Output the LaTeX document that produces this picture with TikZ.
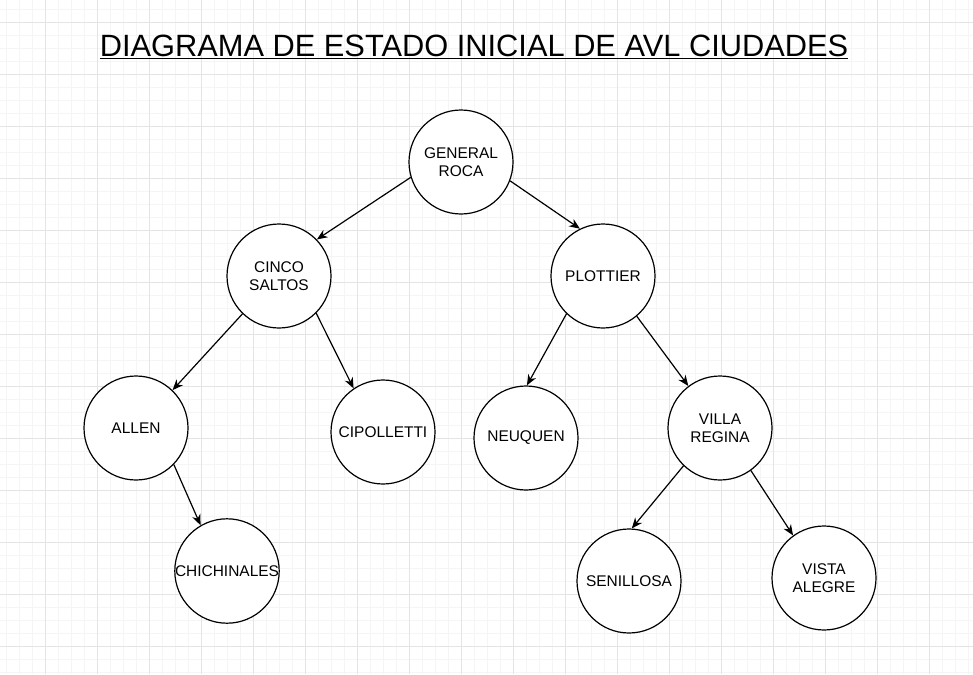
\documentclass[tikz,border=0pt]{standalone}
\usepackage{fontspec}
\setmainfont{Liberation Sans}
\usetikzlibrary{arrows.meta}
\definecolor{gridminor}{HTML}{F5F5F5}
\definecolor{gridmajor}{HTML}{E4E4E4}
\tikzset{
  ciudad/.style={draw,circle,line width=0.9pt,minimum size=78pt,inner sep=0pt,fill=white,
    align=center,font=\fontsize{11.6}{13.5}\selectfont},
  rama/.style={-{Stealth[length=8pt,width=6.5pt,inset=2.5pt]},line width=0.9pt}
}
\begin{document}
\begin{tikzpicture}[x=0.75pt,y=-0.75pt]
                \useasboundingbox (0,0) rectangle (973,674);
                \fill[white] (0,0) rectangle (973,674);
                % cuadricula
                \foreach \gx in {6,19,...,973} \draw[gridminor,line width=0.6pt] (\gx,0)--(\gx,674);
                \foreach \gy in {9,22,...,674} \draw[gridminor,line width=0.6pt] (0,\gy)--(973,\gy);
                \foreach \gx in {45,97,...,973} \draw[gridmajor,line width=0.6pt] (\gx,0)--(\gx,674);
                \foreach \gy in {22,74,...,674} \draw[gridmajor,line width=0.6pt] (0,\gy)--(973,\gy);
                \node (titulo) at (474,47) {\fontsize{23.1}{28}\selectfont\underline{DIAGRAMA DE ESTADO INICIAL DE AVL CIUDADES}};
                \node[ciudad] (roca) at (461,162) {GENERAL\\ROCA};
                \node[ciudad] (cinco) at (279,276) {CINCO\\SALTOS};
                \node[ciudad] (plottier) at (603,276) {PLOTTIER};
                \node[ciudad] (allen) at (136,428) {ALLEN};
                \node[ciudad] (cipolletti) at (383,432) {CIPOLLETTI};
                \node[ciudad] (neuquen) at (526,438) {NEUQUEN};
                \node[ciudad] (villa) at (720,428) {VILLA\\REGINA};
                \node[ciudad] (chichinales) at (227,571) {CHICHINALES};
                \node[ciudad] (senillosa) at (629,581) {SENILLOSA};
                \node[ciudad] (vista) at (824,578) {VISTA\\ALEGRE};
                \draw[rama] (roca.197)--(cinco.44);
                \draw[rama] (roca.-21)--(plottier.116);
                \draw[rama] (cinco.226)--(allen.46);
                \draw[rama] (cinco.-45)--(cipolletti.124);
                \draw[rama] (plottier.226)--(neuquen.89);
                \draw[rama] (plottier.-50)--(villa.127);
                \draw[rama] (allen.-44)--(chichinales.120);
                \draw[rama] (villa.226)--(senillosa.87);
                \draw[rama] (villa.-54)--(vista.126);
\end{tikzpicture}
\end{document}
